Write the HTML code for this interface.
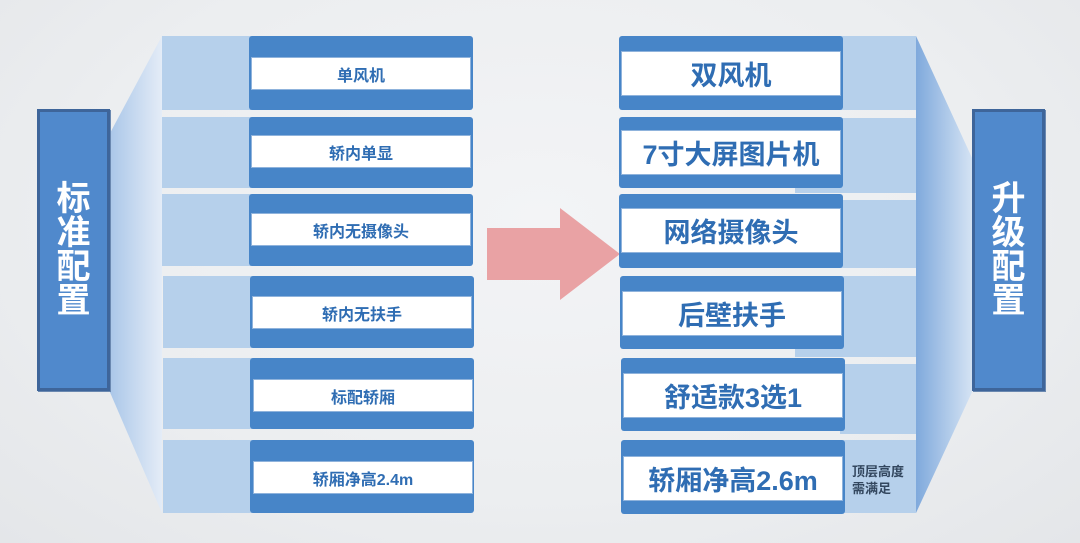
<!DOCTYPE html>
<html><head><meta charset="utf-8"><style>
html,body{margin:0;padding:0}
body{width:1080px;height:543px;overflow:hidden;position:relative;background:radial-gradient(ellipse at 50% 40%,#f3f4f6 0%,#eceef0 60%,#e4e6e9 100%);font-family:"Liberation Sans","Noto Sans CJK SC",sans-serif}
.a{position:absolute}
.lt{background:#b6d0eb}
.dk{background:#4785c8;border-radius:3px}
.wb{background:#fff;border:1px solid #8fb3dc;color:#2f6db3;font-weight:bold;display:flex;align-items:center;justify-content:center;box-sizing:border-box}
.lab{background:#5089cc;border:3px solid #3e659a;box-sizing:border-box;color:#fff;font-weight:bold;font-size:34px;line-height:34px;display:flex;align-items:center;justify-content:center;text-align:center;box-shadow:1px 1px 0 #6a88b0}
</style></head><body>
<svg class="a" style="left:0;top:0" width="1080" height="543">
<defs>
<linearGradient id="gl" x1="0" x2="1"><stop offset="0" stop-color="#a9c6e8"/><stop offset="1" stop-color="#e4ecf7"/></linearGradient>
<linearGradient id="gr" x1="0" x2="1"><stop offset="0" stop-color="#7fa9dc"/><stop offset="1" stop-color="#d6e4f4"/></linearGradient>
</defs>
<polygon points="109,135 162,36 162,513 109,390" fill="url(#gl)"/>
<polygon points="916,36 973,160 973,390 916,513" fill="url(#gr)"/>
<polygon points="487,228 560,228 560,208 620,254 560,300 560,280 487,280" fill="#e9a2a4"/>
</svg>
<div class="a lab" style="left:37px;top:109px;width:73px;height:282px">标<br>准<br>配<br>置</div>
<div class="a lab" style="left:972px;top:109px;width:73px;height:282px">升<br>级<br>配<br>置</div>

<div class="a lt" style="left:162px;top:36px;width:90px;height:74px"></div>
<div class="a dk" style="left:249px;top:36px;width:224px;height:74px"></div>
<div class="a wb" style="left:251px;top:57px;width:220px;height:33px;font-size:16px">单风机</div>

<div class="a lt" style="left:162px;top:117px;width:90px;height:71px"></div>
<div class="a dk" style="left:249px;top:117px;width:224px;height:71px"></div>
<div class="a wb" style="left:251px;top:135px;width:220px;height:33px;font-size:16px">轿内单显</div>

<div class="a lt" style="left:162px;top:194px;width:90px;height:72px"></div>
<div class="a dk" style="left:249px;top:194px;width:224px;height:72px"></div>
<div class="a wb" style="left:251px;top:213px;width:220px;height:33px;font-size:16px">轿内无摄像头</div>

<div class="a lt" style="left:163px;top:276px;width:90px;height:72px"></div>
<div class="a dk" style="left:250px;top:276px;width:224px;height:72px"></div>
<div class="a wb" style="left:252px;top:296px;width:220px;height:33px;font-size:16px">轿内无扶手</div>

<div class="a lt" style="left:163px;top:358px;width:90px;height:71px"></div>
<div class="a dk" style="left:250px;top:358px;width:224px;height:71px"></div>
<div class="a wb" style="left:253px;top:379px;width:220px;height:33px;font-size:16px">标配轿厢</div>

<div class="a lt" style="left:163px;top:440px;width:90px;height:73px"></div>
<div class="a dk" style="left:250px;top:440px;width:224px;height:73px"></div>
<div class="a wb" style="left:253px;top:461px;width:220px;height:33px;font-size:16px">轿厢净高2.4m</div>

<div class="a lt" style="left:840px;top:36px;width:76px;height:74px"></div>
<div class="a dk" style="left:619px;top:36px;width:224px;height:74px"></div>
<div class="a wb" style="left:621px;top:51px;width:220px;height:45px;font-size:27px">双风机</div>

<div class="a lt" style="left:795px;top:118px;width:121px;height:75px"></div>
<div class="a dk" style="left:619px;top:117px;width:224px;height:71px"></div>
<div class="a wb" style="left:621px;top:130px;width:220px;height:45px;font-size:27px">7寸大屏图片机</div>

<div class="a lt" style="left:840px;top:200px;width:76px;height:68px"></div>
<div class="a dk" style="left:619px;top:194px;width:224px;height:74px"></div>
<div class="a wb" style="left:621px;top:208px;width:220px;height:45px;font-size:27px">网络摄像头</div>

<div class="a lt" style="left:795px;top:276px;width:121px;height:81px"></div>
<div class="a dk" style="left:620px;top:276px;width:224px;height:73px"></div>
<div class="a wb" style="left:622px;top:291px;width:220px;height:45px;font-size:27px">后壁扶手</div>

<div class="a lt" style="left:840px;top:364px;width:76px;height:70px"></div>
<div class="a dk" style="left:621px;top:358px;width:224px;height:73px"></div>
<div class="a wb" style="left:623px;top:373px;width:220px;height:45px;font-size:27px">舒适款3选1</div>

<div class="a lt" style="left:840px;top:440px;width:76px;height:73px"></div>
<div class="a dk" style="left:621px;top:440px;width:224px;height:74px"></div>
<div class="a wb" style="left:623px;top:456px;width:220px;height:45px;font-size:27px">轿厢净高2.6m</div>
<div class="a" style="left:852px;top:463px;width:70px;font-size:13px;line-height:17px;color:#33475f;font-weight:bold">顶层高度<br>需满足</div>
</body></html>
